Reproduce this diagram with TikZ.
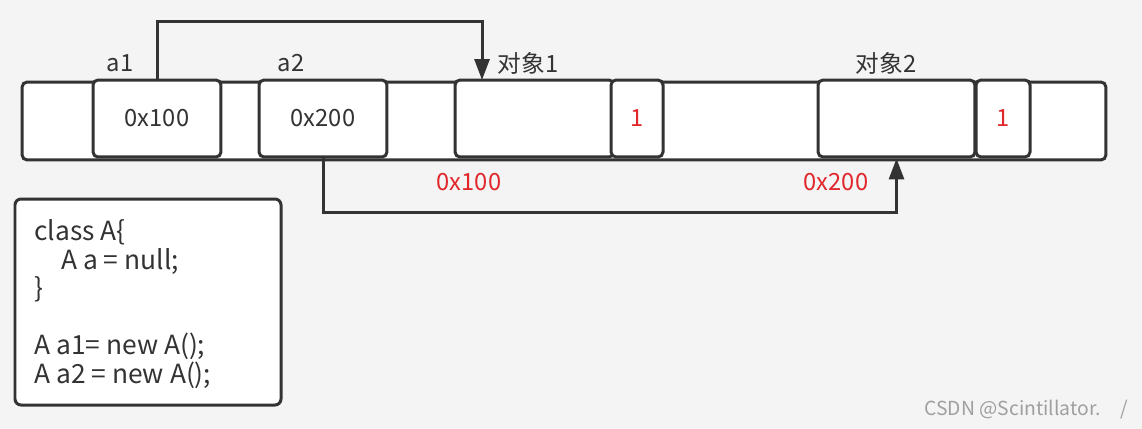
\documentclass[tikz,border=0pt]{standalone}
\usepackage{fontspec}
\setmainfont{Noto Sans CJK SC}
\usetikzlibrary{arrows.meta}
\definecolor{bgcol}{HTML}{F4F4F4}
\definecolor{linecol}{HTML}{333333}
\definecolor{redtxt}{HTML}{E0282C}
\begin{document}
\begin{tikzpicture}[x=0.02cm,y=-0.02cm,
  cell/.style={draw=linecol,line width=0.06cm,fill=white,rounded corners=0.1cm,
    minimum height=1.54cm,inner sep=0pt,font=\fontsize{13.5}{16}\selectfont,text=linecol},
  lbl/.style={font=\fontsize{13.5}{16}\selectfont,text=linecol,inner sep=0pt},
  addr/.style={font=\fontsize{13.5}{16}\selectfont,text=redtxt,inner sep=0pt},
  arr/.style={draw=linecol,line width=0.06cm,-{Triangle[length=0.42cm,width=0.3cm]}}]
  %背景
  \fill[bgcol] (0,0) rectangle (1142,429);
  \useasboundingbox (0,0) rectangle (1142,429);

  %メモリ
  \node[cell,minimum width=21.68cm,minimum height=1.56cm] (mem) at (564,121) {};
  \node[cell,minimum width=2.56cm] (a1) at (157,118.5) {0x100};
  \node[cell,minimum width=2.56cm] (a2) at (323,118.5) {0x200};
  \node[cell,minimum width=3.18cm] (obj1) at (534.5,118.5) {};
  \node[cell,minimum width=1.04cm,text=redtxt] (one1) at (637,118.5) {1};
  \node[cell,minimum width=3.14cm] (obj2) at (896.5,118.5) {};
  \node[cell,minimum width=1.08cm,text=redtxt] (one2) at (1003,118.5) {1};

  %ラベル
  \node[lbl] (la1) at (120,63) {a1};
  \node[lbl] (la2) at (291,63) {a2};
  \node[lbl] (lobj1) at (528,63) {对象1};
  \node[lbl] (lobj2) at (886,63) {对象2};
  \node[addr] (ad1) at (469,182) {0x100};
  \node[addr] (ad2) at (836,182) {0x200};

  %矢印
  \coordinate (in1) at (482,80);
  \draw[arr] (a1.north) -- ++(0,-57) -| (in1);
  \draw[arr] (a2.south) -- ++(0,54) -| (obj2.south);

  %コード
  \draw[linecol,line width=0.06cm,fill=white,rounded corners=0.12cm] (15,199) rectangle (281,405);
  \node[lbl,anchor=base west,align=left,font=\fontsize{15}{16.2}\selectfont] (code) at (34,383)
    {class A\{\\\hspace*{0.54cm}A a = null;\\\}\\\mbox{}\\A a1= new A();\\A a2 = new A();};

  %透かし
  \node[lbl,text=gray!75,font=\fontsize{11}{13}\selectfont,anchor=east] (wm) at (1128,410) {CSDN @Scintillator.\quad/};
\end{tikzpicture}
\end{document}
